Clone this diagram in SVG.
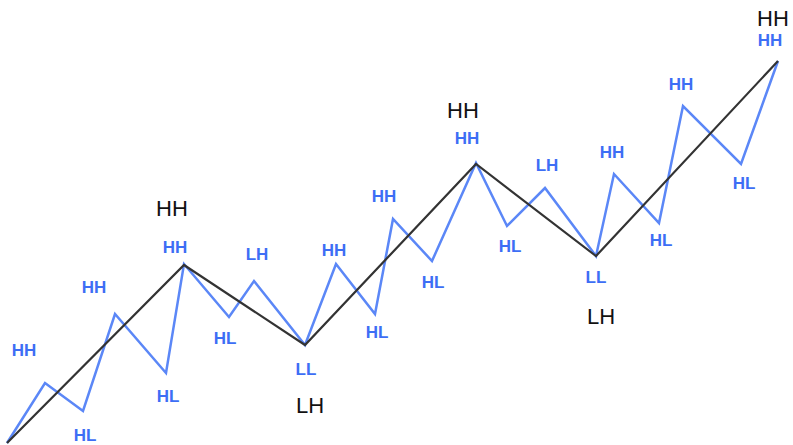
<svg xmlns="http://www.w3.org/2000/svg" width="793" height="445" viewBox="0 0 793 445">
<style>
.bl{fill:none;stroke:#5b87f7;stroke-width:2.5;stroke-linejoin:miter}
.bk{fill:none;stroke:#333;stroke-width:2.2;stroke-linejoin:miter}
.tb{font-family:"Liberation Sans",Arial,sans-serif;font-weight:bold;font-size:17px;fill:#3d6ef5;text-anchor:middle}
.tk{font-family:"Liberation Sans",Arial,sans-serif;font-size:22px;fill:#111;text-anchor:middle}
</style>
<rect width="793" height="445" fill="#fff"/>
<g id="connectors">
<polyline class="bl" points="7,443 45,383 83,411 115,314 166,373 184,264 229,317 254,281 305,345 336,264 375,314 393,219 432,261 476,163 507,226 545,188 596,256 614,174 659,223 683,106 741,164 778,61"/>
<polyline class="bk" points="7,443 184,265 305,345 476,164 596,256 778,61"/>
</g>
<g id="labels-blue">
<text class="tb" x="24" y="356">HH</text>
<text class="tb" x="85" y="441">HL</text>
<text class="tb" x="94" y="293">HH</text>
<text class="tb" x="168" y="402">HL</text>
<text class="tb" x="175" y="253">HH</text>
<text class="tb" x="225" y="344">HL</text>
<text class="tb" x="257" y="260">LH</text>
<text class="tb" x="306" y="375">LL</text>
<text class="tb" x="334" y="256">HH</text>
<text class="tb" x="377" y="338">HL</text>
<text class="tb" x="384" y="202">HH</text>
<text class="tb" x="433" y="288">HL</text>
<text class="tb" x="467" y="144">HH</text>
<text class="tb" x="510" y="252">HL</text>
<text class="tb" x="547" y="171">LH</text>
<text class="tb" x="596" y="283">LL</text>
<text class="tb" x="612" y="158">HH</text>
<text class="tb" x="661" y="246">HL</text>
<text class="tb" x="681" y="90">HH</text>
<text class="tb" x="744" y="189">HL</text>
<text class="tb" x="770" y="46">HH</text>
</g>
<g id="labels-black">
<text class="tk" x="172" y="216">HH</text>
<text class="tk" x="310" y="413">LH</text>
<text class="tk" x="463" y="118">HH</text>
<text class="tk" x="601" y="324">LH</text>
<text class="tk" x="773" y="26">HH</text>
</g>
</svg>
